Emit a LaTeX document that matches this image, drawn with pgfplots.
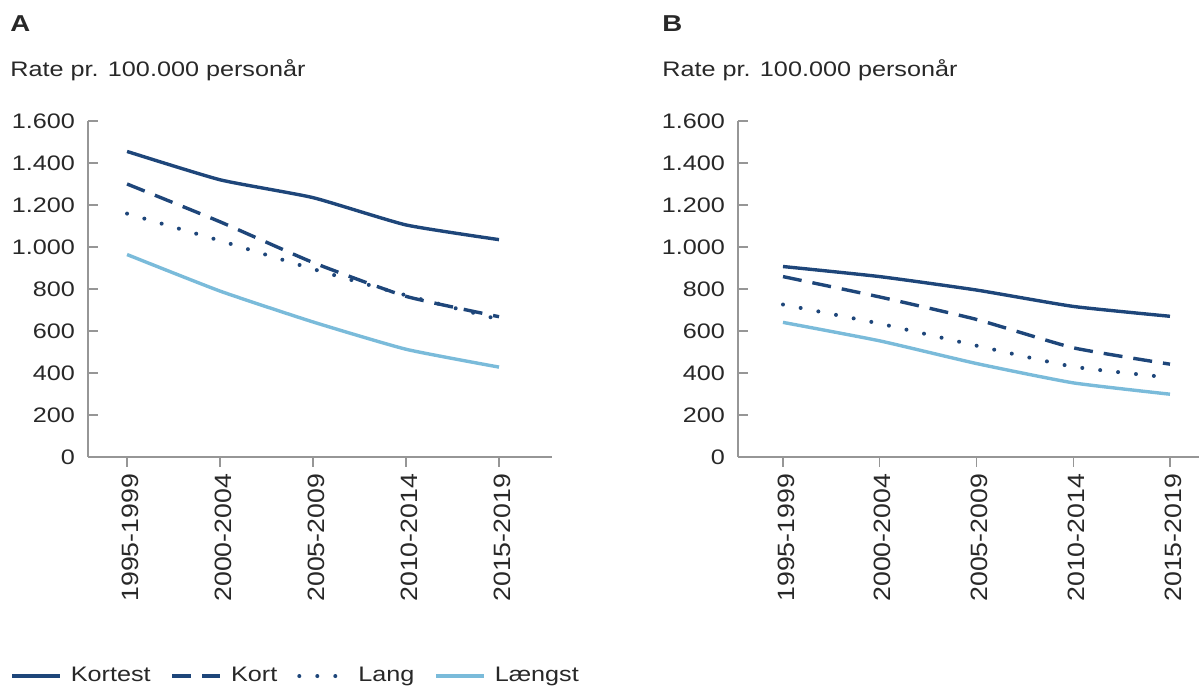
\documentclass[border=0pt]{standalone}
\usepackage{fontspec}
\setmainfont{Liberation Sans}[FakeStretch=1.2]
\newfontfamily\xfont{Liberation Sans}[FakeStretch=1.13]
\usepackage{pgfplots}
\pgfplotsset{compat=1.18}
\definecolor{dblue}{RGB}{30,70,122}
\definecolor{lblue}{RGB}{122,187,218}
\definecolor{txt}{RGB}{40,40,40}
\definecolor{axgray}{RGB}{150,150,150}
\pgfplotsset{
  panel/.style={
    scale only axis,
    height=168pt,
    ymin=0, ymax=1600,
    axis x line*=bottom, axis y line*=left,
    xtick={0,1,2,3,4},
    xticklabels={1995-1999,2000-2004,2005-2009,2010-2014,2015-2019},
    ytick={0,200,...,1600},
    xtick align=outside, ytick align=inside,
    major tick length=5pt,
    tick style={axgray, line width=0.7pt},
    axis line style={axgray, line width=0.7pt},
    every tick label/.append style={font=\fontsize{10.5}{12}\selectfont, text=txt},
    x tick label style={rotate=90, anchor=east, yshift=-1.5pt, font=\xfont\fontsize{11.8}{13}\selectfont},
    y tick label style={xshift=-3pt},
    /pgf/number format/1000 sep={.},
    /pgf/number format/assume math mode=true,
    clip=false,
  },
  s1/.style={dblue, line width=1.7pt, smooth, tension=0.3},
  s2/.style={dblue, line width=1.7pt, dash pattern=on 9.5pt off 5.5pt, smooth, tension=0.3},
  s3/.style={dblue, line width=2pt, line cap=round, dash pattern=on 0pt off 9pt, smooth, tension=0.3},
  s4/.style={lblue, line width=1.7pt, smooth, tension=0.3},
}
\begin{document}
\begin{tikzpicture}
\useasboundingbox (0pt,0pt) rectangle (599.5pt,344pt);
\node[anchor=base west, inner sep=0pt, text=txt, font=\fontsize{11.5}{13}\selectfont\bfseries] at (5pt,328pt) {A};
\node[anchor=base west, inner sep=0pt, text=txt, font=\fontsize{10.5}{12}\selectfont] at (5pt,305.5pt) {Rate pr. 100.000 personår};
\node[anchor=base west, inner sep=0pt, text=txt, font=\fontsize{11.5}{13}\selectfont\bfseries] at (331pt,328pt) {B};
\node[anchor=base west, inner sep=0pt, text=txt, font=\fontsize{10.5}{12}\selectfont] at (331pt,305.5pt) {Rate pr. 100.000 personår};

\begin{axis}[panel, at={(44pt,115.5pt)}, anchor=south west, width=232pt,
  xmin=-0.42, xmax=4.57,
  legend columns=4,
  legend style={draw=none, fill=none, at={(-0.168,-0.652)}, anchor=west, inner sep=0pt,
    font=\fontsize{10.5}{12}\selectfont, text=txt,
    /tikz/every even column/.append style={column sep=8pt}},
  legend cell align=left,
  legend image code/.code={\draw[#1] (0pt,0pt) -- (24pt,0pt); \path (26.5pt,0pt);},
]
\addplot[s1] coordinates {(0,1455) (1,1320) (2,1235) (3,1105) (4,1035)};
\addlegendentry{Kortest}
\addplot[s2] coordinates {(0,1300) (1,1120) (2,926) (3,765) (4,668)};
\addlegendentry{Kort}
\addplot[s3] coordinates {(0,1159) (1,1030) (2,895) (3,770) (4,655)};
\addlegendentry{Lang}
\addplot[s4] coordinates {(0,964) (1,790) (2,643) (3,513) (4,428)};
\addlegendentry{Længst}
\end{axis}

\begin{axis}[panel, at={(369pt,115.5pt)}, anchor=south west, width=230.5pt,
  xmin=-0.465, xmax=4.30]
\addplot[s1] coordinates {(0,907) (1,859) (2,795) (3,717) (4,670)};
\addplot[s2] coordinates {(0,859) (1,762) (2,655) (3,520) (4,442)};
\addplot[s3] coordinates {(0,726) (1,635) (2,530) (3,430) (4,378)};
\addplot[s4] coordinates {(0,641) (1,553) (2,445) (3,353) (4,299)};
\end{axis}
\end{tikzpicture}
\end{document}
